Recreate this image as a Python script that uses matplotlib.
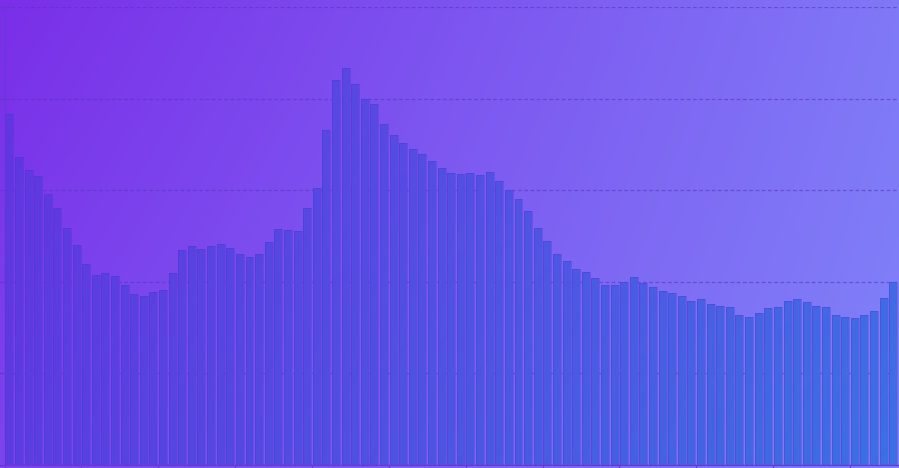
import numpy as np
import matplotlib
matplotlib.use("Agg")
import matplotlib.pyplot as plt
from matplotlib.path import Path
from matplotlib.patches import PathPatch
from matplotlib.colors import to_rgb

# valors llegits del grafic (93 barres, eix y de 0 a 5)
values = [
    3.83, 3.36, 3.22, 3.16, 2.96, 2.81, 2.59, 2.40, 2.19, 2.07,
    2.10, 2.06, 1.97, 1.87, 1.84, 1.89, 1.91, 2.10, 2.35, 2.39,
    2.36, 2.39, 2.41, 2.37, 2.30, 2.27, 2.30, 2.43, 2.58, 2.57,
    2.55, 2.81, 3.02, 3.66, 4.20, 4.33, 4.16, 4.00, 3.94, 3.72,
    3.60, 3.52, 3.45, 3.39, 3.32, 3.24, 3.19, 3.18, 3.19, 3.17,
    3.20, 3.10, 3.00, 2.90, 2.77, 2.59, 2.45, 2.30, 2.23, 2.14,
    2.11, 2.04, 1.97, 1.97, 2.00, 2.05, 1.99, 1.94, 1.90, 1.88,
    1.84, 1.79, 1.81, 1.76, 1.74, 1.72, 1.64, 1.62, 1.66, 1.71,
    1.73, 1.79, 1.81, 1.78, 1.74, 1.72, 1.64, 1.62, 1.61, 1.64,
    1.68, 1.82, 2.00,
]
y_ticks = [0, 1, 2, 3, 4, 5]

n = len(values)
x = np.arange(n)


def bilinear(tl, tr, bl, br, h=200, w=400):
    """Graella RGB interpolada entre quatre cantonades"""
    tl, tr, bl, br = [np.array(to_rgb(c)) for c in (tl, tr, bl, br)]
    u = np.linspace(0, 1, w)[None, :, None]
    v = np.linspace(0, 1, h)[:, None, None]
    top = tl * (1 - u) + tr * u
    bottom = bl * (1 - u) + br * u
    return top * (1 - v) + bottom * v


fig = plt.figure(figsize=(8.99, 4.68), dpi=100)

# fons degradat de tota la figura
bg = fig.add_axes([0, 0, 1, 1], zorder=0)
bg.imshow(bilinear("#7a2ee8", "#8078f7", "#7c44ee", "#7f82f8"),
          aspect="auto", extent=[0, 1, 0, 1], interpolation="bicubic")
bg.axis("off")

ax = fig.add_axes([4.5 / 899, 3 / 468, 893.5 / 899, 458 / 468], zorder=1)
ax.patch.set_alpha(0)

bars = ax.bar(x, values, width=0.83, facecolor="none", edgecolor="none")

# degradat de les barres, retallat amb la forma de totes les barres
paths = [b.get_path().transformed(b.get_patch_transform()) for b in bars]
clip = PathPatch(Path.make_compound_path(*paths), transform=ax.transData,
                 facecolor="none", edgecolor="none")
ax.add_patch(clip)
im = ax.imshow(bilinear("#6334e0", "#4e62e8", "#5a3de0", "#3c70e3"),
               aspect="auto", extent=[-0.5, n - 0.5, 0, 5], zorder=2,
               interpolation="bicubic")
im.set_clip_path(clip)
for b in bars:
    ax.add_patch(plt.Rectangle(b.get_xy(), b.get_width(), b.get_height(),
                               facecolor="none", edgecolor="#4a2fcf",
                               linewidth=0.6, alpha=0.35, zorder=3))

ax.set_xlim(-0.5, n - 0.5)
ax.set_ylim(0, 5)
ax.set_yticks(y_ticks)
ax.set_xticks(np.arange(-0.5, n, 8))
ax.set_xticklabels([])
ax.set_yticklabels([])
ax.grid(axis="y", linestyle=(0, (3, 2)), color="#5634c4", linewidth=0.9,
        alpha=0.6, zorder=4)
ax.tick_params(axis="x", length=4, color="#6a3ad8", width=0.9)
ax.tick_params(axis="y", length=4, color="#6a34d8", width=0.9)
for side in ["top", "right"]:
    ax.spines[side].set_visible(False)
for side in ["left", "bottom"]:
    ax.spines[side].set_color("#6a38d8")
    ax.spines[side].set_linewidth(0.9)

fig.savefig("out.png", dpi=100)
